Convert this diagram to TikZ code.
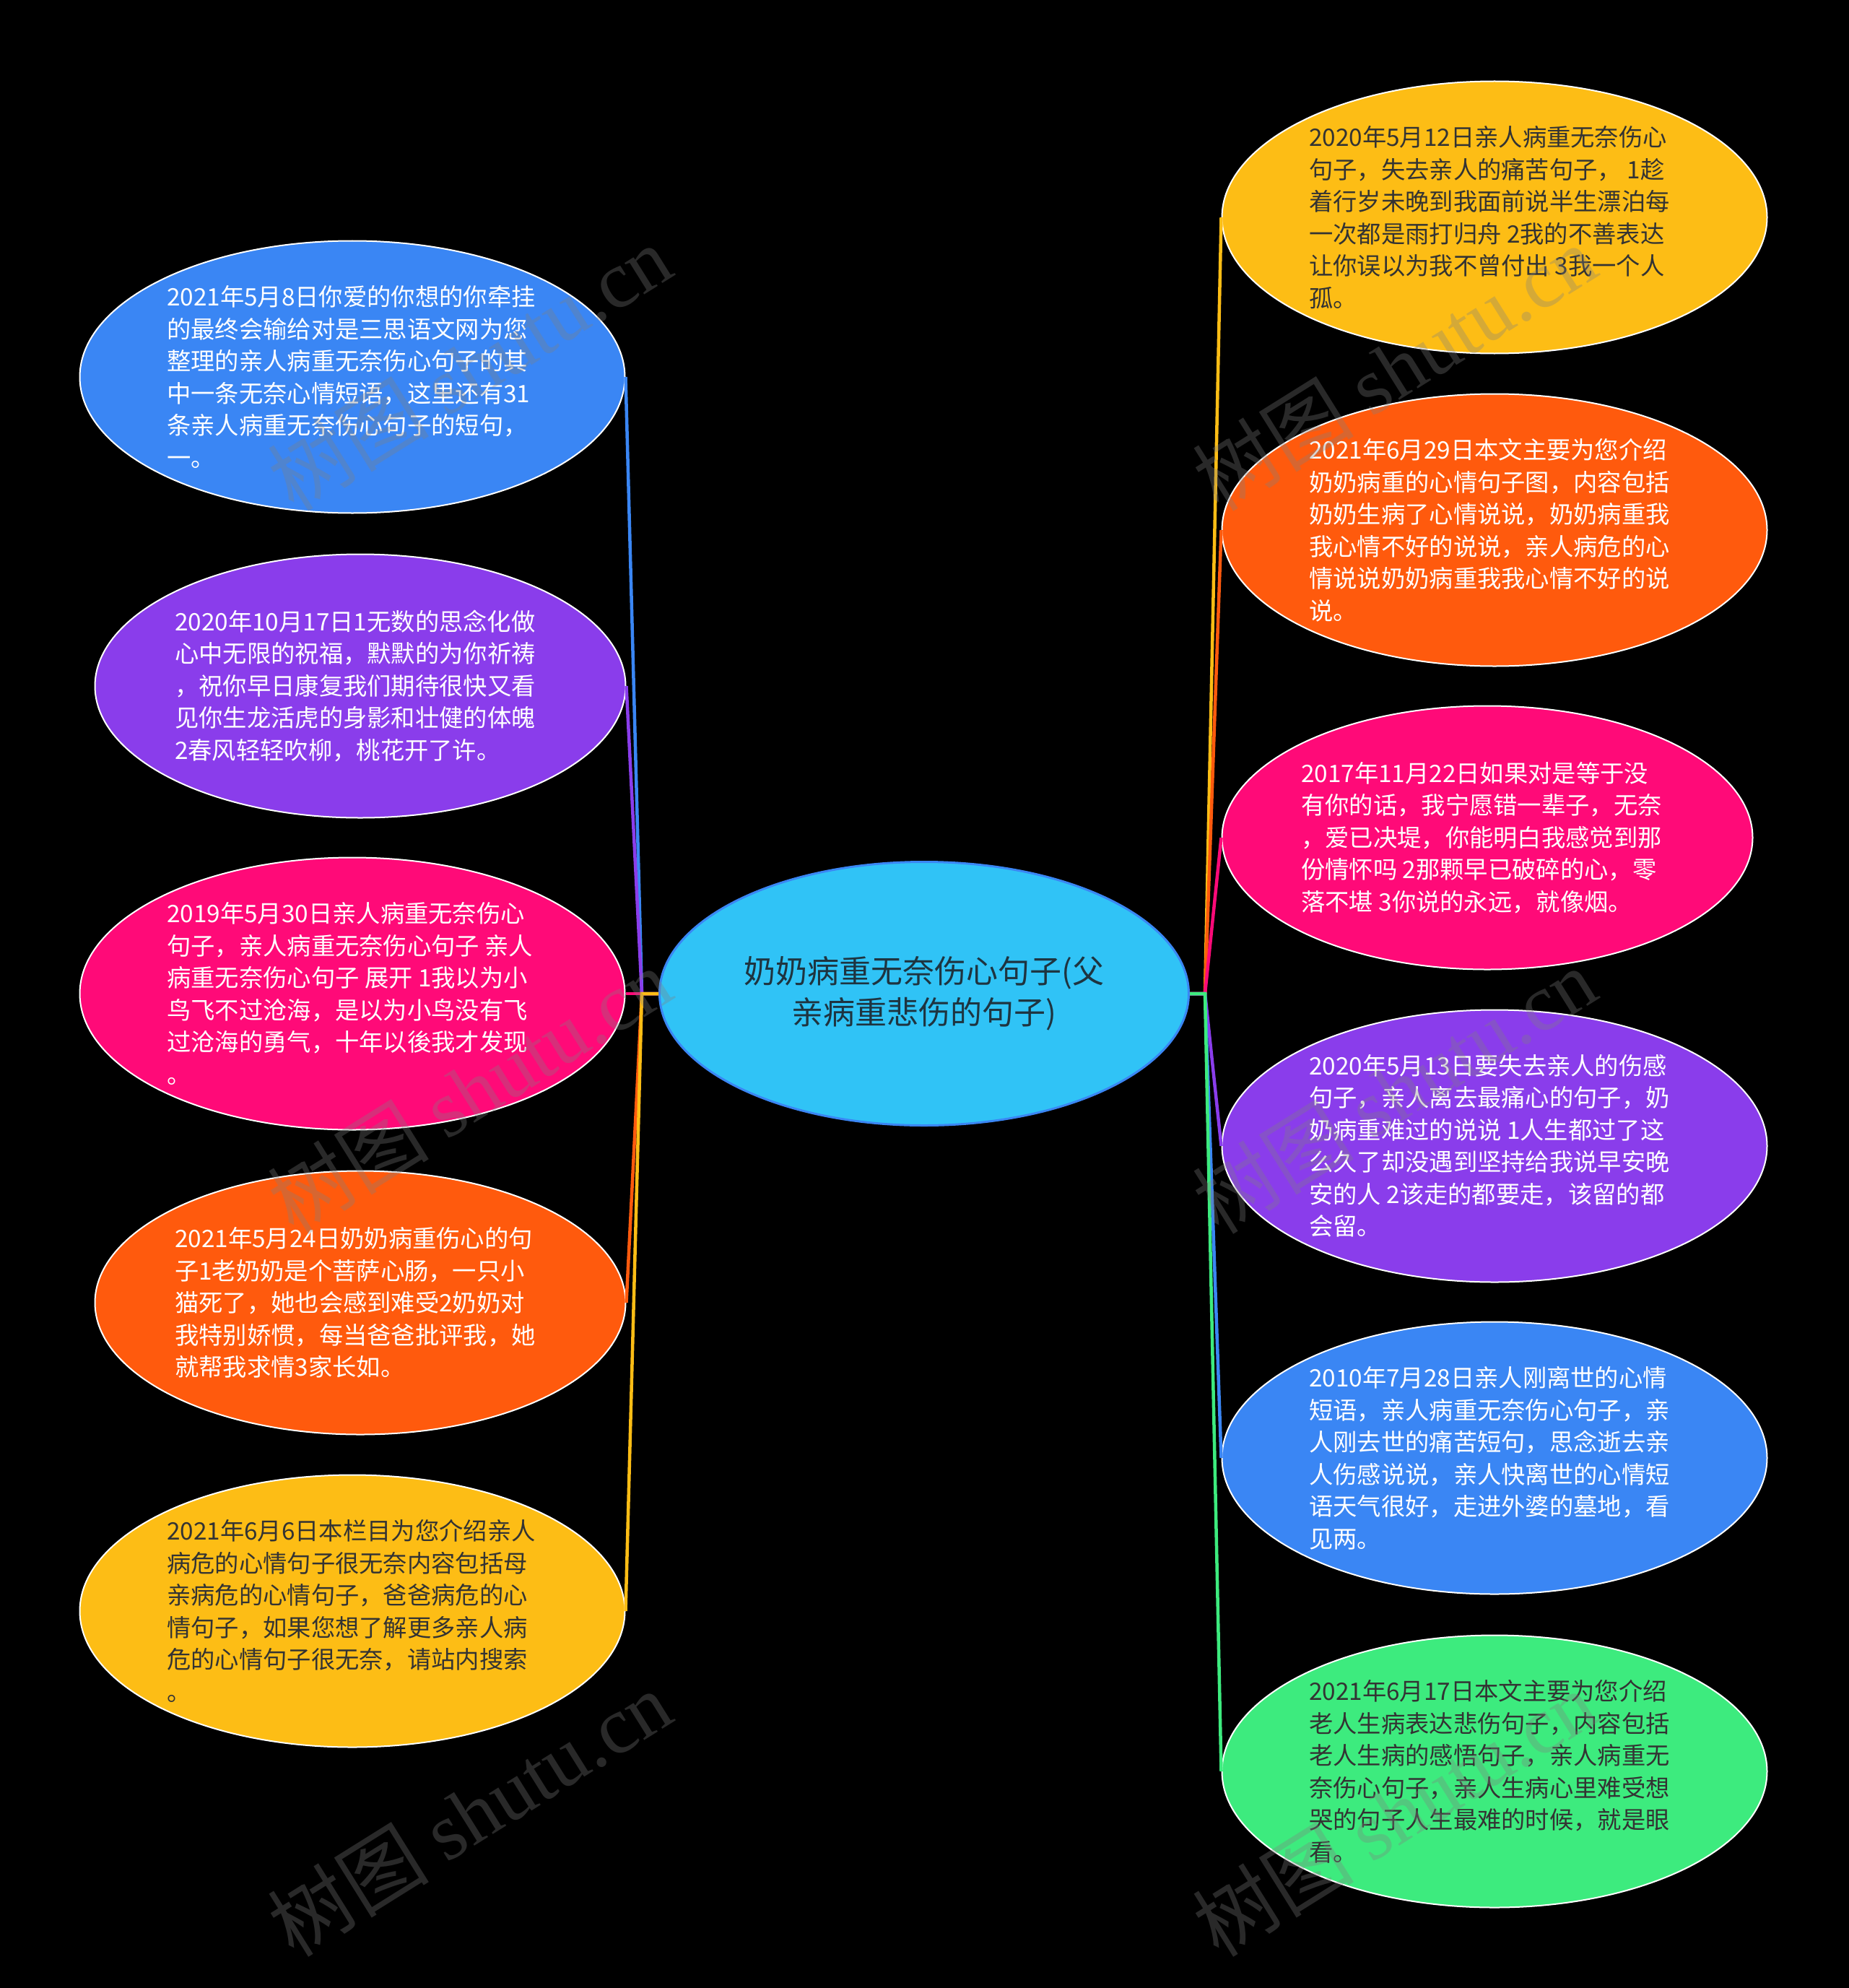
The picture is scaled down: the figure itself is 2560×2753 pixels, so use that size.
\documentclass[tikz,border=0pt]{standalone}
\usepackage{fontspec}
\setmainfont{Noto Sans CJK SC}
\newfontfamily\wmserif{Liberation Serif}
\newfontfamily\wmcjk{Noto Sans CJK SC}
\usetikzlibrary{shapes.geometric}
\definecolor{cblue}{HTML}{3A86F4}
\definecolor{cpurple}{HTML}{8A3DEB}
\definecolor{cpink}{HTML}{FF0A78}
\definecolor{corange}{HTML}{FF5A0D}
\definecolor{cyellow}{HTML}{FDBD15}
\definecolor{cgreen}{HTML}{3DEB7E}
\definecolor{ccenter}{HTML}{30C3F6}
\definecolor{darktext}{HTML}{333333}
\definecolor{centertext}{HTML}{1E3440}
\tikzset{
  leaf/.style={ellipse, draw=white, line width=2pt, inner sep=0pt},
  bigleaf/.style={leaf, minimum width=755pt, minimum height=377pt},
  smallleaf/.style={leaf, minimum width=735pt, minimum height=365pt},
  txt/.style={font=\fontsize{33.3}{44.5}\selectfont, align=left, inner sep=0pt, anchor=west},
  link/.style={line width=4.5pt, line join=miter},
  wm/.style={text=gray, opacity=0.32, rotate=32, inner sep=0pt}
}
\begin{document}
\begin{tikzpicture}[x=1pt,y=-1pt]
\useasboundingbox (0,0) rectangle (2560,2753);
\fill[black] (-20,-20) rectangle (2580,2773);

% center
\node[ellipse, draw=cblue, line width=3pt, fill=ccenter, inner sep=0pt,
      minimum width=733pt, minimum height=365pt] (C) at (1280,1376) {};
\coordinate (JL) at (889,1376);
\coordinate (JR) at (1669,1376);

% left leaves
\node[bigleaf, fill=cblue] (L1) at (488,522) {};
\node[smallleaf, fill=cpurple] (L2) at (499,950) {};
\node[bigleaf, fill=cpink] (L3) at (488,1376) {};
\node[smallleaf, fill=corange] (L4) at (499,1804) {};
\node[bigleaf, fill=cyellow] (L5) at (488,2231) {};

% right leaves
\node[bigleaf, fill=cyellow] (R1) at (2070,301) {};
\node[bigleaf, fill=corange] (R2) at (2070,734) {};
\node[smallleaf, fill=cpink] (R3) at (2060,1160) {};
\node[bigleaf, fill=cpurple] (R4) at (2070,1587) {};
\node[bigleaf, fill=cblue] (R5) at (2070,2019) {};
\node[bigleaf, fill=cgreen] (R6) at (2070,2453) {};

% connectors
\draw[link, cblue]   (C.west) -- (JL) -- (L1.east);
\draw[link, cpurple] (C.west) -- (JL) -- (L2.east);
\draw[link, cpink]   (C.west) -- (JL) -- (L3.east);
\draw[link, corange] (C.west) -- (JL) -- (L4.east);
\draw[link, cyellow] (C.west) -- (JL) -- (L5.east);

\draw[link, cyellow] (C.east) -- (JR) -- (R1.west);
\draw[link, corange] (C.east) -- (JR) -- (R2.west);
\draw[link, cpink]   (C.east) -- (JR) -- (R3.west);
\draw[link, cpurple] (C.east) -- (JR) -- (R4.west);
\draw[link, cblue]   (C.east) -- (JR) -- (R5.west);
\draw[link, cgreen]  (C.east) -- (JR) -- (R6.west);

% center text
\node[font=\fontsize{44}{57}\selectfont, align=center, text=centertext, inner sep=0pt] (Ct) at (C.center)
  {奶奶病重无奈伤心句子(父\\亲病重悲伤的句子)};

% left texts
\node[txt, text=white] (L1t) at (231,522) {2021年5月8日你爱的你想的你牵挂\\的最终会输给对是三思语文网为您\\整理的亲人病重无奈伤心句子的其\\中一条无奈心情短语，这里还有31\\条亲人病重无奈伤心句子的短句，\\一。};
\node[txt, text=white] (L2t) at (242,950) {2020年10月17日1无数的思念化做\\心中无限的祝福，默默的为你祈祷\\，祝你早日康复我们期待很快又看\\见你生龙活虎的身影和壮健的体魄\\2春风轻轻吹柳，桃花开了许。};
\node[txt, text=white] (L3t) at (231,1376) {2019年5月30日亲人病重无奈伤心\\句子，亲人病重无奈伤心句子 亲人\\病重无奈伤心句子 展开 1我以为小\\鸟飞不过沧海，是以为小鸟没有飞\\过沧海的勇气，十年以後我才发现\\。};
\node[txt, text=white] (L4t) at (242,1804) {2021年5月24日奶奶病重伤心的句\\子1老奶奶是个菩萨心肠，一只小\\猫死了，她也会感到难受2奶奶对\\我特别娇惯，每当爸爸批评我，她\\就帮我求情3家长如。};
\node[txt, text=darktext] (L5t) at (231,2231) {2021年6月6日本栏目为您介绍亲人\\病危的心情句子很无奈内容包括母\\亲病危的心情句子，爸爸病危的心\\情句子，如果您想了解更多亲人病\\危的心情句子很无奈，请站内搜索\\。};

% right texts
\node[txt, text=darktext] (R1t) at (1813,301) {2020年5月12日亲人病重无奈伤心\\句子，失去亲人的痛苦句子， 1趁\\着行岁未晚到我面前说半生漂泊每\\一次都是雨打归舟 2我的不善表达\\让你误以为我不曾付出 3我一个人\\孤。};
\node[txt, text=white] (R2t) at (1813,734) {2021年6月29日本文主要为您介绍\\奶奶病重的心情句子图，内容包括\\奶奶生病了心情说说，奶奶病重我\\我心情不好的说说，亲人病危的心\\情说说奶奶病重我我心情不好的说\\说。};
\node[txt, text=white] (R3t) at (1802,1160) {2017年11月22日如果对是等于没\\有你的话，我宁愿错一辈子，无奈\\，爱已决堤，你能明白我感觉到那\\份情怀吗 2那颗早已破碎的心，零\\落不堪 3你说的永远，就像烟。};
\node[txt, text=white] (R4t) at (1813,1587) {2020年5月13日要失去亲人的伤感\\句子，亲人离去最痛心的句子，奶\\奶病重难过的说说 1人生都过了这\\么久了却没遇到坚持给我说早安晚\\安的人 2该走的都要走，该留的都\\会留。};
\node[txt, text=white] (R5t) at (1813,2019) {2010年7月28日亲人刚离世的心情\\短语，亲人病重无奈伤心句子，亲\\人刚去世的痛苦短句，思念逝去亲\\人伤感说说，亲人快离世的心情短\\语天气很好，走进外婆的墓地，看\\见两。};
\node[txt, text=darktext] (R6t) at (1813,2453) {2021年6月17日本文主要为您介绍\\老人生病表达悲伤句子，内容包括\\老人生病的感悟句子，亲人病重无\\奈伤心句子，亲人生病心里难受想\\哭的句子人生最难的时候，就是眼\\看。};

% watermarks
\foreach \wx/\wy [count=\i] in {650/509, 1931/509, 650/1510, 1931/1510, 650/2511, 1931/2511}{
  \node[wm] (W\i) at (\wx,\wy) {\fontsize{112}{112}\selectfont\wmcjk 树图 \wmserif shutu.cn};
}
\end{tikzpicture}
\end{document}
